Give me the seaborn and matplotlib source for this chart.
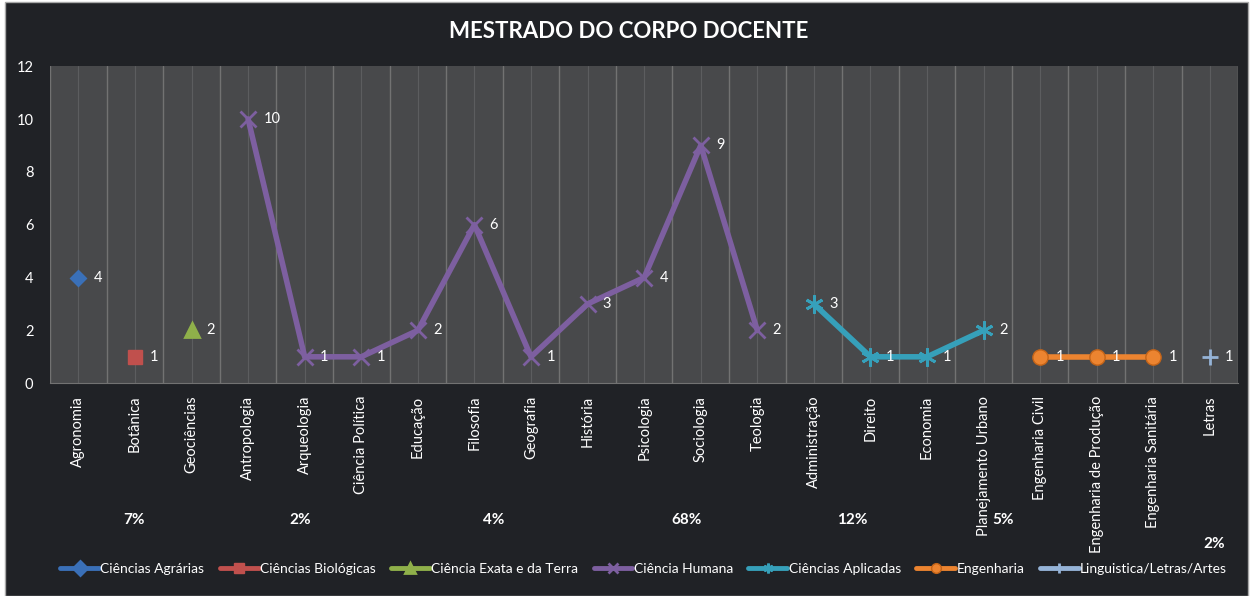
import pandas as pd
import seaborn as sns
import matplotlib.pyplot as plt
from matplotlib.patches import Rectangle
from matplotlib.ticker import MultipleLocator

categorias = ["Agronomia", "Botânica", "Geociências", "Antropologia", "Arqueologia",
              "Ciência Política", "Educação", "Filosofia", "Geografia", "História",
              "Psicologia", "Sociologia", "Teologia", "Administração", "Direito",
              "Economia", "Planejamento Urbano", "Engenharia Civil",
              "Engenharia de Produção", "Engenharia Sanitária", "Letras"]
valores = [4, 1, 2, 10, 1, 1, 2, 6, 1, 3, 4, 9, 2, 3, 1, 1, 2, 1, 1, 1, 1]
grupos = (["Ciências Agrárias"] + ["Ciências Biológicas"] + ["Ciência Exata e da Terra"]
          + ["Ciência Humana"] * 10 + ["Ciências Aplicadas"] * 4 + ["Engenharia"] * 3
          + ["Linguistica/Letras/Artes"])
ordem = ["Ciências Agrárias", "Ciências Biológicas", "Ciência Exata e da Terra",
         "Ciência Humana", "Ciências Aplicadas", "Engenharia", "Linguistica/Letras/Artes"]
percentuais = ["7%", "2%", "4%", "68%", "12%", "5%", "2%"]

cores = {"Ciências Agrárias": "#3a70b8", "Ciências Biológicas": "#c0504d",
         "Ciência Exata e da Terra": "#8fb04a", "Ciência Humana": "#7d5fa0",
         "Ciências Aplicadas": "#36a0ba", "Engenharia": "#ec8430",
         "Linguistica/Letras/Artes": "#95b3d7"}
marcadores = {"Ciências Agrárias": "D", "Ciências Biológicas": "s",
              "Ciência Exata e da Terra": "^", "Ciência Humana": "x",
              "Ciências Aplicadas": (6, 2, 0), "Engenharia": "o",
              "Linguistica/Letras/Artes": "+"}
tamanhos = {"Ciências Agrárias": 7, "Ciências Biológicas": 10,
            "Ciência Exata e da Terra": 10, "Ciência Humana": 12,
            "Ciências Aplicadas": 13, "Engenharia": 11, "Linguistica/Letras/Artes": 12}

df = pd.DataFrame({"categoria": categorias, "valor": valores, "grupo": grupos})
df["pos"] = range(len(df))

sns.set_style("dark")
plt.rcParams["font.family"] = ["Lato", "DejaVu Sans"]

fundo = "#202226"
fig = plt.figure(figsize=(12.52, 5.96), dpi=100, facecolor="white")
fig.patches.append(Rectangle((0.004, 0.0), 0.993, 0.996, transform=fig.transFigure,
                             facecolor=fundo, edgecolor="#a8a8a8", linewidth=1, zorder=-10))
ax = fig.add_axes([0.040, 0.357, 0.949, 0.532])
ax.set_facecolor("#48494b")

for g in ordem:
    sub = df[df["grupo"] == g]
    mec = "#c46418" if g == "Engenharia" else cores[g]
    mew = 1.0 if g in ("Engenharia", "Ciências Biológicas") else 2.0
    sns.lineplot(data=sub, x="pos", y="valor", ax=ax, color=cores[g], linewidth=4,
                 marker=marcadores[g], markersize=tamanhos[g], markeredgecolor=mec,
                 markeredgewidth=mew, label=g, zorder=3)
    for _, r in sub.iterrows():
        ax.annotate(str(r["valor"]), (r["pos"], r["valor"]), xytext=(11, 0),
                    textcoords="offset points", color="white", fontsize=10.5,
                    va="center", ha="left", zorder=4)

ax.set_xlim(-0.5, len(categorias) - 0.5)
ax.set_ylim(0, 12)
ax.yaxis.set_major_locator(MultipleLocator(2))
ax.set_xticks([i - 0.5 for i in range(len(categorias) + 1)])
ax.set_xticklabels([])
ax.set_xticks(range(len(categorias)), minor=True)
ax.set_xticklabels(categorias, minor=True, rotation=90, va="top", color="white", fontsize=10.5)
ax.tick_params(axis="x", which="both", length=0, pad=9)
ax.tick_params(axis="y", length=0, colors="white", labelsize=10.5, pad=12)
ax.grid(axis="x", which="major", color="#727272", linewidth=1)
ax.grid(axis="x", which="minor", color="#5c5d5f", linewidth=0.8)
ax.grid(axis="y", visible=False)
for s in ax.spines.values():
    s.set_visible(False)
ax.spines["bottom"].set_visible(True)
ax.spines["bottom"].set_color("#727272")
ax.set_xlabel("")
ax.set_ylabel("")

# percentuais por grande área (posições aproximadas do original)
pos_pct = [(0.107, 0.128), (0.240, 0.128), (0.394, 0.128), (0.548, 0.128),
           (0.681, 0.128), (0.801, 0.128), (0.970, 0.088)]
for txt, (px, py) in zip(percentuais, pos_pct):
    fig.text(px, py, txt, color="white", fontsize=11, fontweight="bold",
             ha="center", va="center")

fig.text(0.502, 0.947, "MESTRADO DO CORPO DOCENTE", color="white", fontsize=16,
         fontweight="bold", ha="center", va="center")

leg = ax.legend(loc="center", bbox_to_anchor=(0.514, 0.046), bbox_transform=fig.transFigure,
                ncol=7, frameon=False, fontsize=10, labelcolor="white", handlelength=2.8,
                columnspacing=1.1, handletextpad=0.1)
for h in leg.legend_handles:
    h.set_markersize(7)
    h.set_linewidth(3.5)

fig.savefig("out.png", facecolor=fig.get_facecolor())
